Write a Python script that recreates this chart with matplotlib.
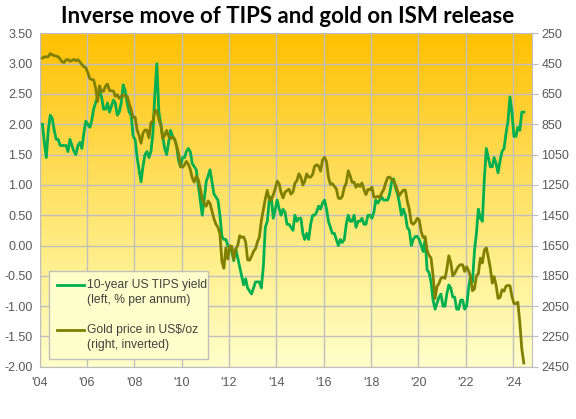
import numpy as np
import pandas as pd
import matplotlib
matplotlib.use("Agg")
import matplotlib.pyplot as plt
import matplotlib.dates as mdates
from matplotlib.colors import LinearSegmentedColormap
from matplotlib.patches import Rectangle
from matplotlib.lines import Line2D

# monthly readings, Jan 2004 .. May 2024
months = pd.date_range("2004-01-15", periods=245, freq="MS") + pd.Timedelta(days=14)

tips = [
    2.0, 1.7, 1.45, 1.9, 2.15, 2.1, 1.9, 1.75, 1.75, 1.65, 1.65, 1.65,        # 2004
    1.65, 1.55, 1.75, 1.65, 1.55, 1.5, 1.65, 1.7, 1.6, 1.85, 2.05, 2.0,       # 2005
    1.95, 2.05, 2.25, 2.35, 2.45, 2.55, 2.45, 2.25, 2.25, 2.35, 2.2, 2.3,     # 2006
    2.4, 2.35, 2.15, 2.2, 2.35, 2.65, 2.55, 2.35, 2.2, 2.15, 1.8, 1.75,       # 2007
    1.45, 1.25, 1.05, 1.3, 1.5, 1.55, 1.45, 1.55, 1.85, 2.5, 3.0, 2.2,        # 2008
    2.0, 1.8, 1.6, 1.5, 1.7, 1.9, 1.8, 1.75, 1.65, 1.4, 1.3, 1.45,            # 2009
    1.45, 1.55, 1.6, 1.55, 1.35, 1.3, 1.25, 1.0, 0.75, 0.5, 0.75, 1.05,       # 2010
    1.15, 1.25, 1.05, 0.85, 0.8, 0.75, 0.5, 0.15, 0.1, 0.1, 0.0, -0.05,       # 2011
    -0.1, -0.25, -0.05, -0.2, -0.35, -0.5, -0.65, -0.55, -0.7, -0.75, -0.8, -0.7,  # 2012
    -0.6, -0.6, -0.6, -0.7, -0.35, 0.3, 0.4, 0.75, 0.8, 0.45, 0.6, 0.75,      # 2013
    0.6, 0.5, 0.6, 0.55, 0.35, 0.35, 0.3, 0.25, 0.5, 0.4, 0.45, 0.45,         # 2014
    0.2, 0.1, 0.2, 0.1, 0.35, 0.5, 0.5, 0.55, 0.65, 0.6, 0.7, 0.75,           # 2015
    0.6, 0.4, 0.3, 0.2, 0.2, 0.1, 0.0, 0.1, 0.05, 0.1, 0.35, 0.5,             # 2016
    0.4, 0.4, 0.5, 0.3, 0.4, 0.4, 0.45, 0.35, 0.35, 0.5, 0.5, 0.45,           # 2017
    0.55, 0.75, 0.7, 0.75, 0.8, 0.75, 0.75, 0.75, 0.85, 1.05, 1.1, 0.95,      # 2018
    0.85, 0.7, 0.5, 0.6, 0.5, 0.3, 0.25, 0.0, 0.1, 0.15, 0.15, 0.1,           # 2019
    0.0, -0.1, 0.1, -0.4, -0.45, -0.6, -0.9, -1.05, -0.95, -0.85, -0.8, -1.0, # 2020
    -1.0, -0.8, -0.65, -0.7, -0.85, -0.85, -1.05, -1.05, -0.9, -0.9, -1.05, -1.0,  # 2021
    -0.7, -0.5, -0.6, -0.1, 0.2, 0.6, 0.45, 0.4, 1.1, 1.6, 1.45, 1.3,         # 2022
    1.3, 1.45, 1.35, 1.2, 1.4, 1.55, 1.6, 1.85, 2.05, 2.45, 2.2, 1.8,         # 2023
    1.8, 1.95, 1.9, 2.2, 2.2,                                                 # 2024
]

gold = [
    414, 405, 406, 404, 383, 392, 398, 400, 405, 420, 439, 442,
    424, 423, 434, 429, 422, 431, 424, 438, 456, 470, 476, 510,
    549, 555, 557, 610, 700, 596, 633, 632, 598, 585, 627, 629,
    631, 665, 655, 679, 667, 655, 665, 665, 712, 754, 806, 803,
    889, 922, 975, 909, 888, 889, 939, 839, 829, 760, 760, 816,
    858, 943, 924, 890, 928, 945, 934, 949, 996, 1043, 1127, 1134,
    1118, 1095, 1114, 1148, 1205, 1232, 1193, 1215, 1271, 1343, 1370, 1391,
    1356, 1372, 1424, 1473, 1510, 1529, 1572, 1756, 1800, 1665, 1739, 1652,
    1656, 1742, 1673, 1650, 1585, 1596, 1593, 1626, 1744, 1747, 1721, 1688,
    1671, 1627, 1593, 1487, 1414, 1343, 1286, 1347, 1349, 1316, 1275, 1225,
    1244, 1300, 1336, 1299, 1287, 1279, 1311, 1296, 1239, 1222, 1176, 1200,
    1251, 1227, 1178, 1198, 1199, 1181, 1128, 1117, 1125, 1159, 1086, 1068,
    1097, 1199, 1246, 1242, 1260, 1276, 1337, 1341, 1326, 1267, 1238, 1157,
    1192, 1234, 1231, 1266, 1246, 1260, 1237, 1283, 1314, 1280, 1282, 1265,
    1331, 1331, 1325, 1335, 1303, 1282, 1238, 1202, 1198, 1215, 1221, 1250,
    1291, 1320, 1300, 1285, 1284, 1359, 1413, 1500, 1510, 1495, 1471, 1480,
    1560, 1597, 1591, 1683, 1716, 1732, 1847, 2000, 1921, 1900, 1866, 1858,
    1867, 1808, 1718, 1760, 1850, 1834, 1807, 1785, 1776, 1777, 1821, 1790,
    1817, 1856, 1948, 1937, 1849, 1837, 1733, 1765, 1681, 1665, 1726, 1798,
    1898, 1855, 1913, 1999, 1992, 1942, 1951, 1918, 1913, 1916, 1985, 2032,
    2033, 2024, 2159, 2331, 2425,
]

left_ticks = np.arange(-2.0, 3.51, 0.5)
right_ticks = np.arange(250, 2451, 200)
year_ticks = pd.date_range("2004-01-01", "2024-01-01", freq="2YS")
leg_labels = [["10-year US TIPS yield", "(left, % per annum)"],
              ["Gold price in US$/oz", "(right, inverted)"]]

green = "#00B050"
olive = "#808000"
grid_c = "#BFBFBF"
txt_c = "#595959"

plt.rcParams["font.family"] = ["Liberation Sans", "DejaVu Sans"]

fig = plt.figure(figsize=(5.76, 4.19), dpi=100)
ax = fig.add_axes([0.0686, 0.1246, 0.8545, 0.7959])
ax2 = ax.twinx()

# gradient background
bg = LinearSegmentedColormap.from_list("bg", ["#FFFFCC", "#FFEE88", "#FFD84A", "#FFC000"])
grad = np.linspace(0, 1, 256).reshape(-1, 1)
ax.imshow(grad, cmap=bg, aspect="auto", extent=[0, 1, 0, 1], origin="lower",
          transform=ax.transAxes, zorder=0)

ax.plot(months, tips, color=green, lw=2.0, zorder=3)
ax2.plot(months, gold, color=olive, lw=2.0, zorder=3)

ax.set_ylim(-2.0, 3.5)
ax.set_yticks(left_ticks)
ax.set_yticklabels(["%.2f" % v for v in left_ticks])
ax2.set_ylim(2450, 250)
ax2.set_yticks(right_ticks)

ax.set_xlim(pd.Timestamp("2004-01-01"), pd.Timestamp("2024-10-15"))
ax.set_xticks(year_ticks)
ax.xaxis.set_major_formatter(mdates.DateFormatter("'%y"))

ax.grid(True, color=grid_c, lw=1.0, zorder=1)
ax.set_axisbelow(False)

for a in (ax, ax2):
    for s in a.spines.values():
        s.set_visible(False)
    a.tick_params(colors=txt_c, labelsize=9, length=0)
ax.spines["left"].set_visible(True)
ax.spines["bottom"].set_visible(True)
ax.spines["left"].set_color(grid_c)
ax.spines["bottom"].set_color(grid_c)
ax2.spines["right"].set_visible(True)
ax2.spines["right"].set_color(grid_c)
ax2.tick_params(axis="y", length=4, color=grid_c, pad=3)
ax.tick_params(axis="y", pad=5)
ax.tick_params(axis="x", pad=7)
for lab in ax.get_xticklabels() + ax.get_yticklabels() + ax2.get_yticklabels():
    lab.set_color(txt_c)

# legend drawn Excel-style: handle level with the first text line
ax2.add_patch(Rectangle((0.0193, 0.023), 0.3227, 0.264, transform=ax2.transAxes,
                        facecolor="#FFFFCC", edgecolor=grid_c, lw=1.0, zorder=5))
for (l1, l2), col, y0 in zip(leg_labels, [green, olive], [0.244, 0.110]):
    ax2.add_line(Line2D([0.035, 0.090], [y0, y0], transform=ax2.transAxes,
                        color=col, lw=2.0, zorder=6))
    ax2.text(0.096, y0, l1, transform=ax2.transAxes, va="center", ha="left",
             fontsize=8.7, color="#404040", zorder=6)
    ax2.text(0.096, y0 - 0.044, l2, transform=ax2.transAxes, va="center", ha="left",
             fontsize=8.7, color="#404040", zorder=6)

fig.suptitle("Inverse move of TIPS and gold on ISM release", x=0.5, y=0.985,
             fontsize=16, fontweight="bold", family=["Lato", "DejaVu Sans"])

fig.savefig("out.png", dpi=100, facecolor="white")
